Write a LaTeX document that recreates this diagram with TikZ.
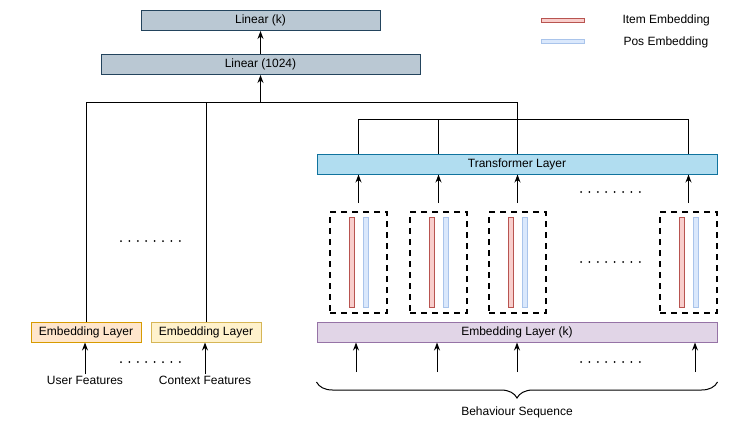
\documentclass[tikz,border=0pt]{standalone}
\usepackage{fontspec}
\setmainfont{Liberation Sans}
\usepackage{xcolor}
\usepackage{tikz}
\usetikzlibrary{positioning,arrows.meta,decorations.pathreplacing}

\definecolor{linfill}{HTML}{BAC8D3}
\definecolor{lindraw}{HTML}{23445D}
\definecolor{trfill}{HTML}{B1DDF0}
\definecolor{trdraw}{HTML}{10739E}
\definecolor{seqfill}{HTML}{E1D5E7}
\definecolor{seqdraw}{HTML}{9673A6}
\definecolor{userfill}{HTML}{FFE6CC}
\definecolor{userdraw}{HTML}{D79B00}
\definecolor{ctxfill}{HTML}{FFF2CC}
\definecolor{ctxdraw}{HTML}{D6B656}
\definecolor{itemfill}{HTML}{F8CECC}
\definecolor{itemdraw}{HTML}{B85450}
\definecolor{posfill}{HTML}{DAE8FC}
\definecolor{posdraw}{HTML}{A9C4EB}

\begin{document}
\begin{tikzpicture}[x=1pt, y=-1pt, line width=1pt,
    rec layer/.style={draw, rectangle, inner sep=0pt, minimum height=20pt, font=\fontsize{12}{14}\selectfont},
    rec label/.style={inner sep=1pt, font=\fontsize{12}{14}\selectfont},
    rec token/.style={draw, rectangle, dash pattern=on 6pt off 5pt, line width=1.6pt, minimum width=57pt, minimum height=101pt},
    item bar/.style={draw=itemdraw, fill=itemfill, rectangle, line width=1pt, inner sep=0pt, minimum width=5pt, minimum height=90pt},
    pos bar/.style={draw=posdraw, fill=posfill, rectangle, line width=1pt, inner sep=0pt, minimum width=5pt, minimum height=90pt},
    rec arrow/.style={-{Stealth[length=8pt,width=6pt]}},
    rec dots/.style={line width=2pt, line cap=round, dash pattern=on 0pt off 8.4pt}]
    \useasboundingbox (0,0) rectangle (751,434);

    % heads
    \node[rec layer, fill=linfill, draw=lindraw, minimum width=239pt] (link) at (260.5,20.5) {Linear (k)};
    \node[rec layer, fill=linfill, draw=lindraw, minimum width=319pt] (lin1024) at (260.5,64.5) {Linear (1024)};
    \draw[rec arrow] (lin1024) -- (link);

    % legend
    \node[item bar, minimum width=43pt, minimum height=4pt] (itemkey) at (562.5,20) {};
    \node[pos bar, minimum width=43pt, minimum height=4pt] (poskey) at (562.5,41.5) {};
    \node[rec label, anchor=west] (itemtxt) at (621,20) {Item Embedding};
    \node[rec label, anchor=west] (postxt) at (622,42) {Pos Embedding};

    % side features
    \node[rec layer, fill=userfill, draw=userdraw, minimum width=110pt] (embuser) at (86,332) {Embedding Layer};
    \node[rec layer, fill=ctxfill, draw=ctxdraw, minimum width=110pt] (embctx) at (206,332) {Embedding Layer};
    \node[rec label] (user) at (85,380) {User Features};
    \node[rec label] (ctx) at (205,380) {Context Features};
    \draw[rec arrow] (user) -- (user |- embuser.south);
    \draw[rec arrow] (ctx) -- (ctx |- embctx.south);
    \draw[rec dots] (121,362) -- (181,362);
    \draw[rec dots] (121,241) -- (181,241);

    % behaviour sequence
    \node[rec layer, fill=seqfill, draw=seqdraw, minimum width=400pt] (embseq) at (517,332) {Embedding Layer (k)};
    \node[rec layer, fill=trfill, draw=trdraw, minimum width=400pt] (trans) at (517,164) {Transformer Layer};

    \node[rec token] (tok1) at (358.5,262.5) {};
    \node[rec token] (tok2) at (438.5,262.5) {};
    \node[rec token] (tok3) at (517.5,262.5) {};
    \node[rec token] (tok4) at (688.5,262.5) {};
    \node[item bar] (item1) at ([xshift=-7pt]tok1.center) {};
    \node[pos bar] (pos1) at ([xshift=7pt]tok1.center) {};
    \node[item bar] (item2) at ([xshift=-7pt]tok2.center) {};
    \node[pos bar] (pos2) at ([xshift=7pt]tok2.center) {};
    \node[item bar] (item3) at ([xshift=-7pt]tok3.center) {};
    \node[pos bar] (pos3) at ([xshift=7pt]tok3.center) {};
    \node[item bar] (item4) at ([xshift=-7pt]tok4.center) {};
    \node[pos bar] (pos4) at ([xshift=7pt]tok4.center) {};
    \draw[rec dots] (581,262) -- (641,262);

    \draw[rec arrow] ([yshift=8pt]tok1.north) -- (tok1 |- trans.south);
    \draw[rec arrow] ([yshift=8pt]tok2.north) -- (tok2 |- trans.south);
    \draw[rec arrow] ([yshift=8pt]tok3.north) -- (tok3 |- trans.south);
    \draw[rec arrow] ([yshift=8pt]tok4.north) -- (tok4 |- trans.south);
    \draw[rec dots] (581,192) -- (641,192);

    \coordinate (s1) at (356,372);
    \coordinate (s2) at (437,372);
    \coordinate (s3) at (517,372);
    \coordinate (s4) at (695,372);
    \draw[rec arrow] (s1) -- (s1 |- embseq.south);
    \draw[rec arrow] (s2) -- (s2 |- embseq.south);
    \draw[rec arrow] (s3) -- (s3 |- embseq.south);
    \draw[rec arrow] (s4) -- (s4 |- embseq.south);
    \draw[rec dots] (581,362) -- (641,362);

    \draw[decorate, decoration={brace, mirror, amplitude=16pt}] (embseq.south west |- 0,382) -- (embseq.south east |- 0,382);
    \node[rec label] (seq) at (517,412) {Behaviour Sequence};

    % buses
    \coordinate (bus) at (0,102);
    \coordinate (bus2) at (0,119);
    \draw (embuser.north) -- (embuser |- bus) -- (tok3 |- bus) -- (tok3 |- bus2);
    \draw (embctx.north) -- (embctx |- bus);
    \draw[rec arrow] (lin1024 |- bus) -- (lin1024.south);
    \draw (tok1 |- trans.north) -- (tok1 |- bus2) -- (tok4 |- bus2) -- (tok4 |- trans.north);
    \draw (tok2 |- bus2) -- (tok2 |- trans.north);
    \draw (tok3 |- bus2) -- (tok3 |- trans.north);

\end{tikzpicture}
\end{document}
